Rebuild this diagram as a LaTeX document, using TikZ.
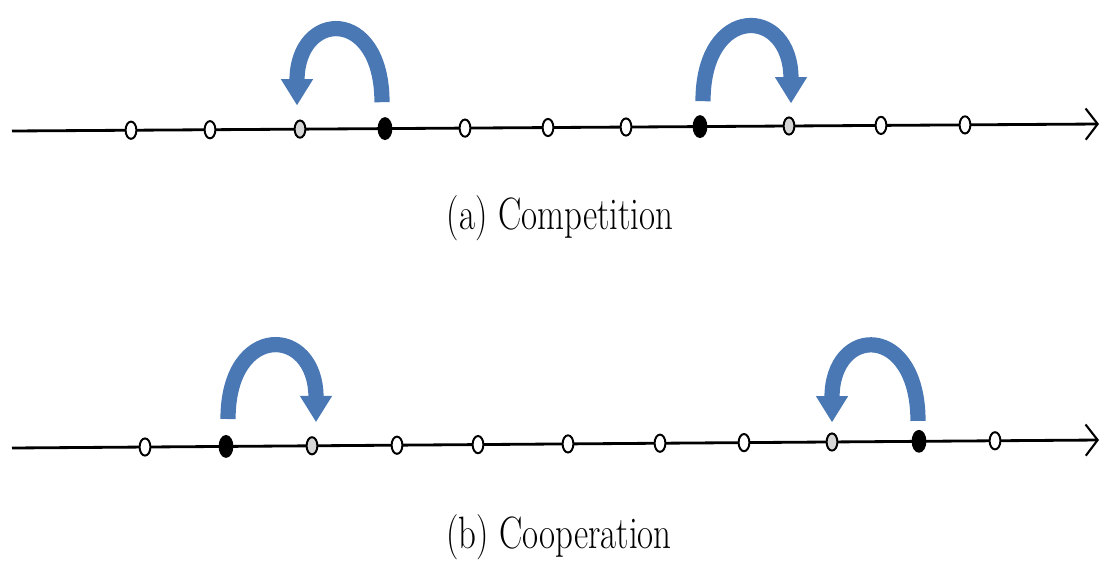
\documentclass[tikz,border=0pt]{standalone}
\usetikzlibrary{shapes.geometric,arrows.meta}
\definecolor{jumpblue}{HTML}{4A78B5}
\definecolor{hitgray}{HTML}{D6D6D6}

\begin{document}
\begin{tikzpicture}[x=0.025cm,y=-0.025cm,
      axis/.style={line width=2pt,
                   -{Straight Barb[length=0.3cm,width=0.78cm,line width=1.5pt]}},
      site/.style={ellipse,draw,line width=1.4pt,fill=white,inner sep=0pt,
                   minimum width=0.27cm,minimum height=0.43cm},
      occupied/.style={site,fill=black,minimum width=0.32cm,minimum height=0.52cm},
      target/.style={site,fill=hitgray},
      jump/.style={line width=0.38cm,draw=jumpblue,
                   -{Triangle[width=0.76cm,length=0.66cm]}},
      caption/.style={font=\fontsize{24.8}{30}\selectfont}]
    \useasboundingbox (0,0) rectangle (1101,561);

    % (a) competition
    \coordinate (la) at (12,131);
    \coordinate (ra) at (1099,124);
    \draw[axis] (la) -- (ra);
    \node[site]     (a1)  at (131,130.2) {};
    \node[site]     (a2)  at (210,129.7) {};
    \node[target]   (a3)  at (300,129.1) {};
    \node[occupied] (a4)  at (385,128.6) {};
    \node[site]     (a5)  at (465,128.1) {};
    \node[site]     (a6)  at (548,127.5) {};
    \node[site]     (a7)  at (626,127.0) {};
    \node[occupied] (a8)  at (700,126.6) {};
    \node[target]   (a9)  at (789,126.0) {};
    \node[site]     (a10) at (881,125.4) {};
    \node[site]     (a11) at (965,124.9) {};

    \draw[jump] ([shift={(-3,-15)}]a4.north)
      .. controls +(0,-96) and +(0,-96) .. ([shift={(-3,-14)}]a3.north);
    \draw[jump] ([shift={(3,-14)}]a8.north)
      .. controls +(0,-98) and +(0,-98) .. ([shift={(2,-13)}]a9.north);

    \node[caption] (capa) at (560,218) {\scalebox{1}[1.3]{(a) Competition}};

    % (b) cooperation
    \coordinate (lb) at (12,448);
    \coordinate (rb) at (1099,440);
    \draw[axis] (lb) -- (rb);
    \node[site]     (b1)  at (145,447.0) {};
    \node[occupied] (b2)  at (226,446.4) {};
    \node[target]   (b3)  at (312,445.8) {};
    \node[site]     (b4)  at (397,445.2) {};
    \node[site]     (b5)  at (478,444.6) {};
    \node[site]     (b6)  at (568,443.9) {};
    \node[site]     (b7)  at (660,443.2) {};
    \node[site]     (b8)  at (744,442.6) {};
    \node[target]   (b9)  at (832,442.0) {};
    \node[occupied] (b10) at (919,441.3) {};
    \node[site]     (b11) at (995,440.8) {};

    \draw[jump] ([shift={(2,-16)}]b2.north)
      .. controls +(0,-97) and +(0,-97) .. ([shift={(4,-14)}]b3.north);
    \draw[jump] ([shift={(-1,-9)}]b10.north)
      .. controls +(0,-98) and +(0,-98) .. ([shift={(0,-10)}]b9.north);

    \node[caption] (capb) at (559,537) {\scalebox{1}[1.3]{(b) Cooperation}};
  \end{tikzpicture}
\end{document}
